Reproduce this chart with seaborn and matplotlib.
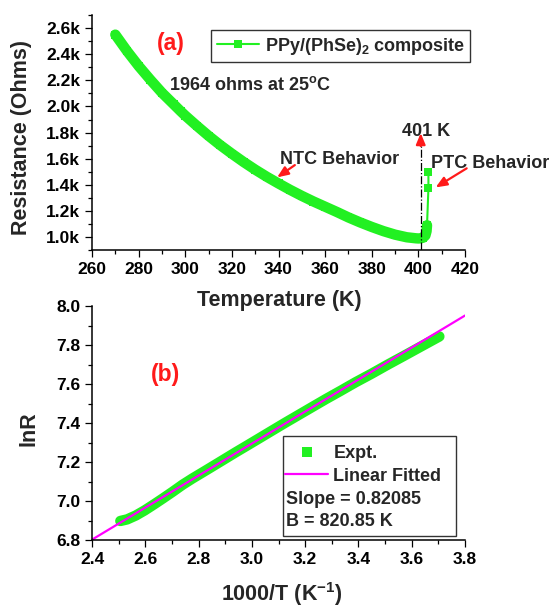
import numpy as np
import pandas as pd
import matplotlib
matplotlib.use("Agg")
import matplotlib.pyplot as plt
from matplotlib.lines import Line2D
from matplotlib.patches import Rectangle
from matplotlib.ticker import MultipleLocator, FuncFormatter, FormatStrFormatter
import seaborn as sns

# Resistance of the PPy/(PhSe)2 composite versus temperature
temperature_K = [270, 275, 280, 285, 290, 295, 298, 300, 305, 310, 315, 320,
                 325, 330, 335, 340, 345, 350, 355, 360, 365, 370, 375, 380,
                 385, 390, 395, 399, 400, 401, 402, 403, 403.5, 403.7,
                 404.3, 404.3]
resistance_ohm = [2550, 2425, 2310, 2205, 2105, 2017, 1964, 1930, 1851, 1775,
                  1704, 1638, 1575, 1516, 1461, 1410, 1361, 1315, 1272, 1232,
                  1192, 1150, 1112, 1077, 1045, 1018, 998, 990, 989, 990, 995,
                  1012, 1045, 1090, 1375, 1495]

# NTC region used for the Arrhenius plot and its linear fit
ntc_max_T = 399
dense_max_T = 403.7
fit_slope = 0.82085
fit_intercept = 4.832
transition_T = 401

x_ticks_a = [260, 280, 300, 320, 340, 360, 380, 400, 420]
y_ticks_a = [1000, 1200, 1400, 1600, 1800, 2000, 2200, 2400, 2600]
x_ticks_b = [2.4, 2.6, 2.8, 3.0, 3.2, 3.4, 3.6, 3.8]
y_ticks_b = [6.8, 7.0, 7.2, 7.4, 7.6, 7.8, 8.0]

GREEN = "#22f022"
MAGENTA = "#ff00ff"
RED = "#ff1a1a"

sns.set_style("ticks")
plt.rcParams["font.family"] = ["Liberation Sans", "DejaVu Sans"]
plt.rcParams["font.weight"] = "bold"
plt.rcParams["axes.labelweight"] = "bold"
plt.rcParams["mathtext.fontset"] = "custom"
plt.rcParams["mathtext.rm"] = "Liberation Sans:bold"
plt.rcParams["mathtext.it"] = "Liberation Sans:bold"
plt.rcParams["mathtext.bf"] = "Liberation Sans:bold"
plt.rcParams["axes.edgecolor"] = "black"
plt.rcParams["xtick.color"] = "black"
plt.rcParams["ytick.color"] = "black"

df = pd.DataFrame({"T": temperature_K, "R": resistance_ohm})
dense = df[df["T"] <= dense_max_T]
ntc = df[df["T"] <= ntc_max_T].copy()
ntc["invT"] = 1000.0 / ntc["T"]
ntc["lnR"] = np.log(ntc["R"])

fig = plt.figure(figsize=(5.5, 6.08), dpi=100)
ax_a = fig.add_axes([0.1673, 0.5887, 0.6782, 0.3865])
ax_b = fig.add_axes([0.1673, 0.1118, 0.6782, 0.3849])
ax_b.set_facecolor("none")
ax_a.set_facecolor("none")


def style_axes(ax):
    for s in ("left", "bottom"):
        ax.spines[s].set_linewidth(1.1)
    ax.tick_params(which="major", length=5, width=0.9, labelsize=12.5, pad=3.5)
    ax.tick_params(which="minor", length=3, width=0.9)


# ---- (a) R versus T ----
sns.lineplot(data=dense, x="T", y="R", ax=ax_a, color=GREEN, lw=7.5,
             estimator=None, sort=False, legend=False)
sns.lineplot(data=df, x="T", y="R", ax=ax_a, color=GREEN, lw=1.5,
             marker="s", markersize=5.5, markeredgewidth=0,
             estimator=None, sort=False, legend=False)
ax_a.axvline(transition_T, ymin=0, ymax=0.443, color="black", lw=0.9,
             ls="-.")

ax_a.set_xlim(260, 420)
ax_a.set_ylim(900, 2700)
ax_a.set_xticks(x_ticks_a)
ax_a.set_yticks(y_ticks_a)
ax_a.xaxis.set_minor_locator(MultipleLocator(10))
ax_a.yaxis.set_minor_locator(MultipleLocator(100))
ax_a.yaxis.set_major_formatter(FuncFormatter(lambda v, p: f"{v / 1000:.1f}k"))
ax_a.set_xlabel("Temperature (K)", fontsize=15.5)
ax_a.set_ylabel("Resistance (Ohms)", fontsize=15.5)
ax_a.xaxis.set_label_coords(0.501, -0.17)
ax_a.yaxis.set_label_coords(-0.16, 0.479)
style_axes(ax_a)
sns.despine(ax=ax_a)

ax_a.text(293.9, 2483, "(a)", color=RED, fontsize=16.5, fontweight="bold",
          ha="center", va="center")
ax_a.text(293.2, 2164, "1964 ohms at 25$^{o}$C", fontsize=13,
          fontweight="bold", ha="left", va="center")
ax_a.text(340.6, 1595, "NTC Behavior", fontsize=13, fontweight="bold",
          ha="left", va="center")
ax_a.text(405.4, 1564, "PTC Behavior", fontsize=13, fontweight="bold",
          ha="left", va="center", clip_on=False)
ax_a.text(403.3, 1808, "401 K", fontsize=13, fontweight="bold",
          ha="center", va="center")

arrow_kw = dict(arrowstyle="-|>,head_length=0.6,head_width=0.25",
                color=RED, lw=1.6, shrinkA=0, shrinkB=0, mutation_scale=11)
ax_a.annotate("", xy=(339.4, 1457), xytext=(347, 1551), arrowprops=arrow_kw)
ax_a.annotate("", xy=(407.4, 1380), xytext=(420.7, 1526),
              arrowprops=arrow_kw, annotation_clip=False)
ax_a.annotate("", xy=(transition_T, 1796), xytext=(transition_T, 1697),
              arrowprops=arrow_kw)

leg_a = ax_a.legend(
    handles=[Line2D([], [], color=GREEN, lw=1.5, marker="s", markersize=5.5,
                    markeredgewidth=0)],
    labels=["PPy/(PhSe)$_2$ composite"],
    loc="upper left", bbox_to_anchor=(0.3198, 0.936), borderaxespad=0,
    fontsize=13, handlelength=2.36, handletextpad=0.3, borderpad=0.3,
    frameon=True, fancybox=False, framealpha=1)
leg_a.get_frame().set_edgecolor("#333333")
leg_a.get_frame().set_linewidth(1.0)
for t in leg_a.get_texts():
    t.set_fontweight("bold")

# ---- (b) ln R versus 1000/T ----
sns.lineplot(data=ntc, x="invT", y="lnR", ax=ax_b, color=GREEN, lw=7.5,
             estimator=None, sort=False, legend=False)
ax_b.axline((0, fit_intercept), slope=fit_slope, color=MAGENTA, lw=1.6)

ax_b.set_xlim(2.4, 3.8)
ax_b.set_ylim(6.8, 8.0)
ax_b.set_xticks(x_ticks_b)
ax_b.set_yticks(y_ticks_b)
ax_b.xaxis.set_minor_locator(MultipleLocator(0.1))
ax_b.yaxis.set_minor_locator(MultipleLocator(0.1))
ax_b.xaxis.set_major_formatter(FormatStrFormatter("%.1f"))
ax_b.yaxis.set_major_formatter(FormatStrFormatter("%.1f"))
ax_b.set_xlabel("1000/T (K$^{-1}$)", fontsize=15.5)
ax_b.set_ylabel("lnR", fontsize=15.5)
ax_b.xaxis.set_label_coords(0.51, -0.17)
ax_b.yaxis.set_label_coords(-0.141, 0.477)
style_axes(ax_b)
sns.despine(ax=ax_b)

ax_b.text(2.675, 7.651, "(b)", color=RED, fontsize=16.5, fontweight="bold",
          ha="center", va="center")

ax_b.add_patch(Rectangle((0.512, 0.017), 0.464, 0.427, transform=ax_b.transAxes,
                         facecolor="white", edgecolor="#333333", lw=1.0,
                         zorder=5))
leg_b = ax_b.legend(
    handles=[Line2D([], [], ls="none", color=GREEN, marker="s", markersize=7,
                    markeredgewidth=0),
             Line2D([], [], color=MAGENTA, lw=1.6)],
    labels=["Expt.", "Linear Fitted"],
    loc="upper left", bbox_to_anchor=(0.517, 0.405), borderaxespad=0,
    borderpad=0, fontsize=13, handlelength=2.4, handletextpad=0.28,
    labelspacing=0.3, frameon=False)
leg_b.set_zorder(6)
for t in leg_b.get_texts():
    t.set_fontweight("bold")
ax_b.text(0.520, 0.172, "Slope = 0.82085", transform=ax_b.transAxes,
          fontsize=13, fontweight="bold", ha="left", va="center", zorder=7)
ax_b.text(0.520, 0.08, "B = 820.85 K", transform=ax_b.transAxes,
          fontsize=13, fontweight="bold", ha="left", va="center", zorder=7)

# tick labels in bold, as the rest of the text
fig.canvas.draw()
for ax in (ax_a, ax_b):
    for lbl in ax.get_xticklabels() + ax.get_yticklabels():
        lbl.set_fontweight("bold")

fig.savefig("out.png", dpi=100)
